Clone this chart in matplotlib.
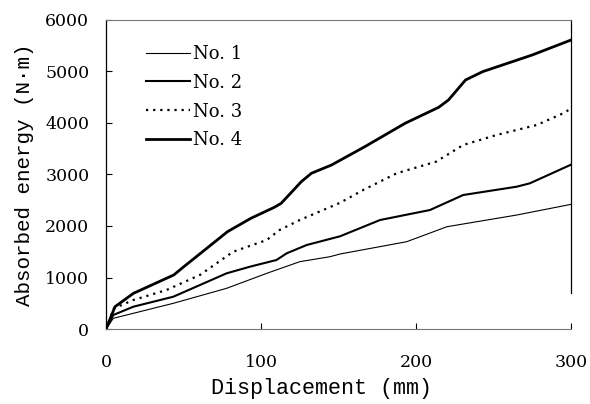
import numpy as np
import matplotlib.pyplot as plt

# displacement (mm) / absorbed energy (N*m)
x1 = [0, 4.7, 17.6, 43.4, 77.8, 103.7, 125, 144.5, 151, 194, 220, 265, 300]
y1 = [0, 208, 305, 499, 790, 1081, 1307, 1404, 1456, 1695, 1986, 2213, 2420]
x2 = [0, 4.7, 17.6, 43.4, 60.6, 77.8, 92.9, 110, 116.6, 129.5, 151, 176.8, 209, 230.5, 265, 273.5, 300]
y2 = [0, 272, 433, 627, 854, 1081, 1210, 1340, 1470, 1631, 1800, 2116, 2310, 2602, 2763, 2829, 3190]
x3 = [0, 5, 17.6, 39, 60.6, 82, 103.7, 112, 125, 151, 166, 187.5, 213, 230.5, 252, 278, 295, 300]
y3 = [0, 400, 563, 757, 1050, 1500, 1728, 1922, 2116, 2450, 2700, 3023, 3249, 3573, 3767, 3961, 4188, 4280]
x4 = [0, 5.8, 17.7, 43.7, 50.2, 61, 78.4, 93.5, 108.6, 113, 126, 132.5, 145.5, 167, 193, 214.7, 221, 232, 243, 275, 300]
y4 = [0, 433, 693, 1049, 1210, 1470, 1890, 2150, 2363, 2440, 2860, 3023, 3184, 3540, 3994, 4305, 4447, 4835, 4996, 5320, 5610]
labels = ['No. 1', 'No. 2', 'No. 3', 'No. 4']
xticks = [0, 100, 200, 300]
yticks = [0, 1000, 2000, 3000, 4000, 5000, 6000]

fig = plt.figure(figsize=(5.9, 4.04), dpi=100)
ax = fig.add_axes([0.1797, 0.1856, 0.788, 0.765])

ax.plot(x1, y1, color='black', lw=0.8, label=labels[0])
ax.plot(x2, y2, color='black', lw=1.5, label=labels[1])
ax.plot(x3, y3, color='black', lw=1.6, ls=(0, (1, 2.2)), label=labels[2])
ax.plot(x4, y4, color='black', lw=2.0, label=labels[3])

ax.set_xlim(0, 300)
ax.set_ylim(0, 6000)
ax.set_xticks(xticks)
ax.set_yticks(yticks)
ax.tick_params(direction='in', length=4, width=0.8, labelsize=12.5)
ax.tick_params(axis='x', pad=18)
ax.tick_params(axis='y', pad=12)
for lab in ax.get_xticklabels() + ax.get_yticklabels():
    lab.set_family('DejaVu Serif')

for s in ['top', 'bottom']:
    ax.spines[s].set_color('#777777')
    ax.spines[s].set_linewidth(0.8)
ax.spines['left'].set_linewidth(0.9)
ax.spines['right'].set_linewidth(0.9)
ax.spines['right'].set_bounds(700, 6000)

ax.set_xlabel('Displacement (mm)', family='Liberation Mono', fontsize=15.7)
ax.xaxis.set_label_coords(0.4645, -0.16)
ax.set_ylabel('Absorbed energy (N\u00b7m)', family='Liberation Mono', fontsize=15)
ax.yaxis.set_label_coords(-0.155, 0.5)

leg = ax.legend(loc='upper left', frameon=False, bbox_to_anchor=(0.052, 0.972),
                prop={'family': 'DejaVu Serif', 'size': 13},
                handlelength=2.4, handletextpad=0.2, labelspacing=0.6)

fig.savefig('out.png')
